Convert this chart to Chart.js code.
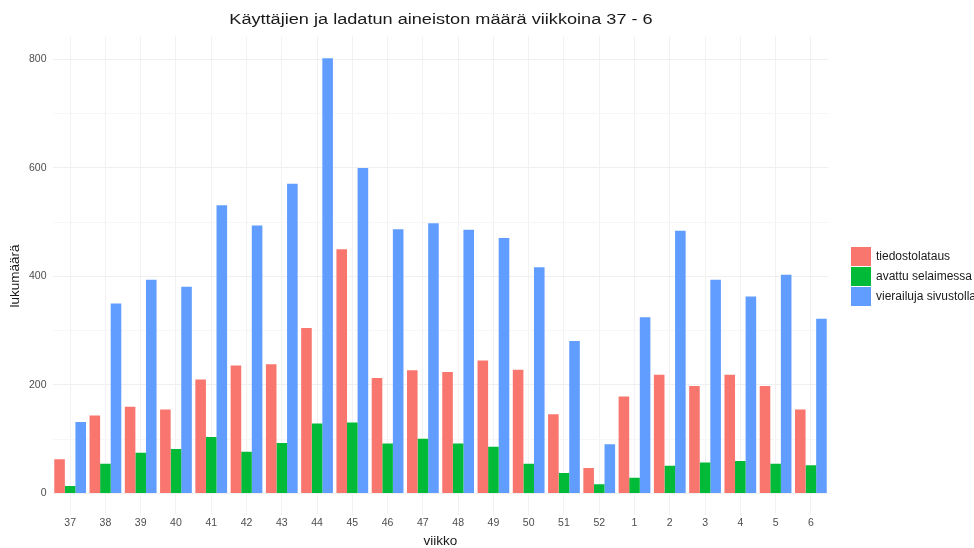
<!DOCTYPE html>
<html lang="fi">
<head>
<meta charset="utf-8">
<title>Käyttäjien ja ladatun aineiston määrä</title>
<script src="https://cdn.jsdelivr.net/npm/chart.js@4.4.1/dist/chart.umd.min.js"></script>
<style>
  html,body{margin:0;padding:0;background:#fff;}
  #wrap{position:relative;width:974px;height:548px;overflow:hidden;font-family:"Liberation Sans",Arial,sans-serif;}
  #otsikko{position:absolute;left:441px;top:19px;transform:translate(-50%,-50%) scaleX(1.17);
    white-space:nowrap;font-size:15.5px;color:#1a1a1a;}
  #selite{position:absolute;left:851px;top:246px;}
  #selite .rivi{display:flex;align-items:center;height:20px;}
  #selite .laatikko{width:20px;height:19px;margin-right:5px;}
  #selite span{font-size:12px;color:#1a1a1a;white-space:nowrap;}
  canvas{position:absolute;left:0;top:0;}
</style>
</head>
<body>
<div id="wrap">
  <canvas id="kaavio" width="974" height="548"></canvas>
  <div id="otsikko">Käyttäjien ja ladatun aineiston määrä viikkoina 37 - 6</div>
  <div id="selite"></div>
</div>
<script>
/* ===== data ===== */
const viikot = ['37','38','39','40','41','42','43','44','45','46','47','48','49','50','51','52','1','2','3','4','5','6'];
const tiedostolataus = [63,144,160,155,210,236,238,305,450,213,227,224,245,228,146,47,179,219,198,219,198,155];
const avattuSelaimessa = [14,55,75,82,104,77,93,129,131,92,101,92,86,55,38,17,29,51,57,60,55,52];
const vierailujaSivustolla = [132,350,394,381,531,494,571,802,600,487,498,486,471,417,281,91,325,484,394,363,403,322];
const sarjaNimet = ['tiedostolataus','avattu selaimessa','vierailuja sivustolla'];
const yTicks = [0,100,200,300,400,500,600,700,800];   // 200-välein numerot, välissä apuviivat

const varit = ['#F8766D','#00BA38','#619CFF'];

/* ===== selite (html) ===== */
const sel = document.getElementById('selite');
sarjaNimet.forEach((n,i)=>{
  const r=document.createElement('div'); r.className='rivi';
  r.innerHTML=`<div class="laatikko" style="background:${varit[i]}"></div><span>${n}</span>`;
  sel.appendChild(r);
});

/* ===== kaavio ===== */
const fontti = '"Liberation Sans", Arial, sans-serif';
const sarjat = [tiedostolataus, avattuSelaimessa, vierailujaSivustolla];

new Chart(document.getElementById('kaavio'),{
  type:'bar',
  data:{
    labels: viikot,
    datasets: sarjat.map((d,i)=>({
      label: sarjaNimet[i], data: d, backgroundColor: varit[i],
      categoryPercentage: 0.9, barPercentage: 1.0, borderWidth: 0
    }))
  },
  options:{
    responsive:false,
    devicePixelRatio:1,
    animation:false,
    layout:{ padding:{ top:36.5, right:145.5, left:0, bottom:0 } },
    plugins:{ legend:{display:false}, title:{display:false}, tooltip:{enabled:false} },
    scales:{
      x:{
        grid:{ color:'#f2f2f2', offset:false, drawTicks:false },
        border:{ display:false },
        ticks:{ color:'#4d4d4d', padding:2, font:{family:fontti,size:10.5} },
        title:{ display:true, text:'viikko', color:'#1a1a1a', padding:{top:0,bottom:0},
                font:{family:fontti,size:13.5,lineHeight:1} },
        afterFit(s){ s.height = 32.7; }
      },
      y:{
        min:-40.1, max:842.1,
        afterBuildTicks(s){ s.ticks = yTicks.map(v=>({value:v})); },
        grid:{ drawTicks:false, color:(c)=> (c.tick && c.tick.value%200!==0) ? '#f7f7f7' : '#f0f0f0' },
        border:{ display:false },
        ticks:{ color:'#4d4d4d', padding:6, font:{family:fontti,size:10.5},
                callback:(v)=> v%200===0 ? v : '' },
        title:{ display:true, text:'lukumäärä', color:'#1a1a1a', padding:{top:7,bottom:0},
                font:{family:fontti,size:13.5} },
        afterFit(s){ s.width = 52.5; }
      }
    }
  }
});
</script>
</body>
</html>
